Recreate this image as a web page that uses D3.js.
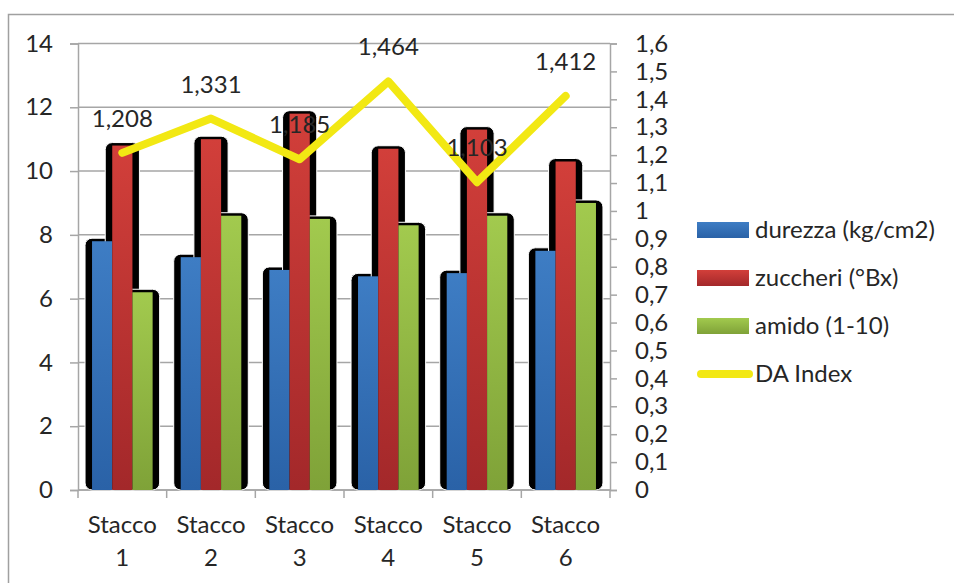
<!DOCTYPE html>
<html>
<head>
<meta charset="utf-8">
<script src="https://cdn.jsdelivr.net/npm/d3@7"></script>
<style>
  html, body { margin: 0; padding: 0; background: #fff; }
  svg { display: block; }
  text { font-family: Lato, "Open Sans", sans-serif; fill: #262626; }
</style>
</head>
<body>
<svg id="chart" width="954" height="583"></svg>
<script>
// Categories and series
const categories = ["Stacco 1", "Stacco 2", "Stacco 3", "Stacco 4", "Stacco 5", "Stacco 6"];
const durezza  = [7.8, 7.3, 6.9, 6.7, 6.8, 7.5];
const zuccheri = [10.8, 11.0, 11.8, 10.7, 11.3, 10.3];
const amido    = [6.2, 8.6, 8.5, 8.3, 8.6, 9.0];
const daIndex  = [1.208, 1.331, 1.185, 1.464, 1.103, 1.412];

const seriesNames = ["durezza (kg/cm2)", "zuccheri (°Bx)", "amido (1-10)"];
const daName = "DA Index";

const leftTicks  = [0, 2, 4, 6, 8, 10, 12, 14];
const rightTicks = [0, 0.1, 0.2, 0.3, 0.4, 0.5, 0.6, 0.7, 0.8, 0.9, 1, 1.1, 1.2, 1.3, 1.4, 1.5, 1.6];

const barSeries = [durezza, zuccheri, amido];
const gradStops = [
  ["#3e7dc4", "#2a62a7"],
  ["#d23f3a", "#a3282a"],
  ["#a2ca4e", "#7fa238"]
];
const lineColor = "#f2e813";
const gridColor = "#a6a6a6";

const svg = d3.select("#chart");
const comma = v => String(v).replace(".", ",");

// gradients
const defs = svg.append("defs");
gradStops.forEach((s, i) => {
  const g = defs.append("linearGradient").attr("id", "g" + i)
    .attr("x1", 0).attr("y1", 0).attr("x2", 0).attr("y2", 1);
  g.append("stop").attr("offset", "0%").attr("stop-color", s[0]);
  g.append("stop").attr("offset", "100%").attr("stop-color", s[1]);
});

// outer frame
svg.append("rect").attr("x", 8.5).attr("y", 14.5).attr("width", 1000).attr("height", 700)
  .attr("fill", "none").attr("stroke", "#a0a0a0").attr("stroke-width", 1.5);

const plotL = 78, plotR = 610, plotT = 43.5, plotB = 490;

const x = d3.scaleBand().domain(categories).range([plotL, plotR]).paddingInner(0).paddingOuter(0);
const x1 = d3.scaleBand().domain(d3.range(3)).range([0, x.bandwidth()]).paddingInner(0).paddingOuter(0.695);
const y = d3.scaleLinear().domain([0, 14]).range([plotB, plotT]);
const y2 = d3.scaleLinear().domain([0, 1.6]).range([plotB, plotT]);

// gridlines
svg.append("g").selectAll("line").data(leftTicks).join("line")
  .attr("x1", plotL).attr("x2", plotR)
  .attr("y1", d => y(d)).attr("y2", d => y(d))
  .attr("stroke", gridColor).attr("stroke-width", 1.5);

// left axis
const axL = svg.append("g").attr("transform", `translate(${plotL},0)`)
  .call(d3.axisLeft(y).tickValues(leftTicks).tickSize(8).tickPadding(17).tickFormat(d => d));
// right axis
const axR = svg.append("g").attr("transform", `translate(${plotR},0)`)
  .call(d3.axisRight(y2).tickValues(rightTicks).tickSize(7).tickPadding(18).tickFormat(comma));
[axL, axR].forEach(a => {
  a.select(".domain").attr("stroke", gridColor).attr("stroke-width", 1.5);
  a.selectAll(".tick line").attr("stroke", gridColor).attr("stroke-width", 1.5);
  a.selectAll("text").style("font-size", "24px").attr("fill", "#262626");
});

// bottom axis
const axB = svg.append("g");
axB.append("line").attr("x1", plotL).attr("x2", plotR).attr("y1", plotB).attr("y2", plotB)
  .attr("stroke", gridColor).attr("stroke-width", 1.5);
axB.selectAll("line.t").data(d3.range(categories.length + 1)).join("line").attr("class", "t")
  .attr("x1", i => plotL + i * x.step()).attr("x2", i => plotL + i * x.step())
  .attr("y1", plotB).attr("y2", plotB + 8)
  .attr("stroke", gridColor).attr("stroke-width", 1.5);
const catText = axB.selectAll("text").data(categories).join("text")
  .attr("text-anchor", "middle").style("font-size", "24px");
catText.each(function(d) {
  const parts = d.split(" ");
  const t = d3.select(this);
  const cx = x(d) + x.bandwidth() / 2;
  t.append("tspan").attr("x", cx).attr("y", 533).text(parts[0]);
  t.append("tspan").attr("x", cx).attr("y", 566).text(parts[1]);
});

// bars: shadows first, then fills
const barData = [];
barSeries.forEach((vals, s) => vals.forEach((v, i) => barData.push({ s, i, v })));
const bx = d => x(categories[d.i]) + x1(d.s);

svg.append("g").selectAll("rect").data(barData).join("rect")
  .attr("x", d => bx(d) - 7).attr("y", d => y(d.v) - 3)
  .attr("width", x1.bandwidth() + 14).attr("height", d => plotB - y(d.v) + 3)
  .attr("rx", 7).attr("ry", 7)
  .attr("fill", "#000").attr("stroke", "#fff").attr("stroke-width", 1);

svg.append("g").selectAll("rect").data(barData).join("rect")
  .attr("x", d => bx(d)).attr("y", d => y(d.v))
  .attr("width", x1.bandwidth()).attr("height", d => plotB - y(d.v))
  .attr("fill", d => `url(#g${d.s})`);

// DA Index line
const pts = daIndex.map((v, i) => [x(categories[i]) + x.bandwidth() / 2, y2(v)]);
svg.append("path").attr("d", d3.line()(pts))
  .attr("fill", "none").attr("stroke", lineColor).attr("stroke-width", 8)
  .attr("stroke-linejoin", "round").attr("stroke-linecap", "round");

// data labels
svg.append("g").selectAll("text").data(daIndex).join("text")
  .attr("x", (d, i) => x(categories[i]) + x.bandwidth() / 2)
  .attr("y", d => y2(d) - 26)
  .attr("text-anchor", "middle").style("font-size", "24px")
  .text(d => comma(d));

// legend
const leg = svg.append("g");
const rowY = [230, 278, 326, 374];
seriesNames.forEach((n, i) => {
  leg.append("rect").attr("x", 697).attr("y", rowY[i] - 8).attr("width", 52).attr("height", 16)
    .attr("fill", `url(#g${i})`);
  leg.append("text").attr("x", 755).attr("y", rowY[i] + 8).style("font-size", "24px").text(n);
});
leg.append("line").attr("x1", 701).attr("x2", 749).attr("y1", rowY[3]).attr("y2", rowY[3])
  .attr("stroke", lineColor).attr("stroke-width", 8).attr("stroke-linecap", "round");
leg.append("text").attr("x", 755).attr("y", rowY[3] + 8).style("font-size", "24px").text(daName);
</script>
</body>
</html>
